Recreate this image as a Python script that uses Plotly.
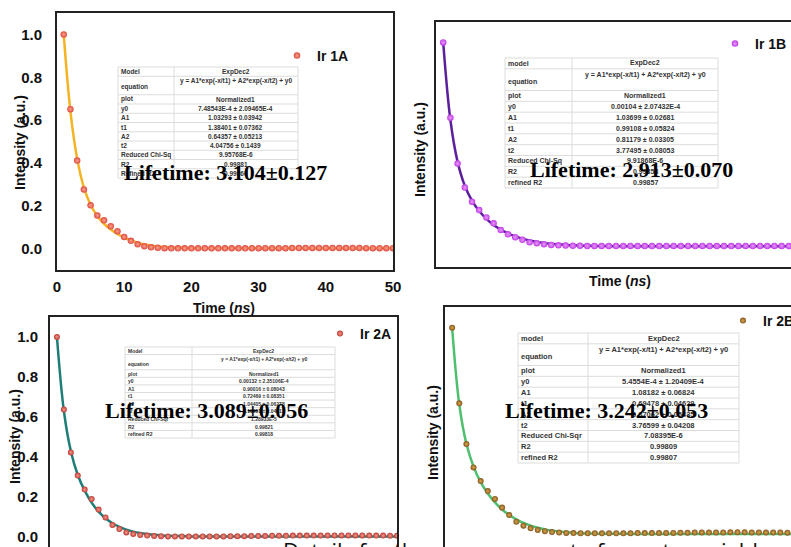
import plotly.graph_objects as go

W, H = 791, 547

# ---------------- data ----------------
time_ns = list(range(1, 51))

ir1a_data = [1.0, 0.651, 0.411, 0.276, 0.202, 0.155, 0.132, 0.104, 0.081, 0.054,
             0.036, 0.020, 0.011, 0.006, 0.004, 0.002] + [0.001] * 12 + [0.002] * 6 + [0.003] * 11 + [0.002] * 5
ir1a_fit = [1.0, 0.64, 0.42, 0.285, 0.205, 0.152, 0.116, 0.089, 0.068, 0.051,
            0.038, 0.028, 0.020, 0.014, 0.010, 0.007, 0.005, 0.004, 0.003, 0.002] + [0.001] * 30

ir1b_data = [1.0, 0.631, 0.407, 0.289, 0.220, 0.179, 0.143, 0.114, 0.081, 0.060,
             0.046, 0.033, 0.021, 0.016, 0.011, 0.008, 0.006, 0.005, 0.004, 0.004] + [0.003] * 30
ir1b_fit = [1.0, 0.62, 0.415, 0.298, 0.225, 0.174, 0.136, 0.106, 0.083, 0.065,
            0.050, 0.039, 0.030, 0.023, 0.018, 0.014, 0.011, 0.008, 0.006, 0.005,
            0.004, 0.003, 0.003, 0.002, 0.002] + [0.002] * 25

ir2a_data = [1.0, 0.637, 0.423, 0.307, 0.237, 0.190, 0.137, 0.098, 0.060, 0.040,
             0.023, 0.015, 0.010, 0.007, 0.005, 0.004] + [0.003] * 9 + [0.004] * 3 + [0.005] * 3 + \
            [0.006] * 3 + [0.007] * 4 + [0.008] * 7 + [0.007] * 3 + [0.006] * 2
ir2a_fit = [1.0, 0.63, 0.43, 0.31, 0.232, 0.172, 0.127, 0.094, 0.069, 0.051,
            0.037, 0.027, 0.020, 0.015, 0.011, 0.008, 0.006, 0.005, 0.004, 0.003] + [0.002] * 30

ir2b_data = [1.0, 0.635, 0.439, 0.326, 0.260, 0.212, 0.174, 0.132, 0.096, 0.064,
             0.045, 0.032, 0.024, 0.018, 0.014, 0.012, 0.010, 0.009] + [0.008] * 8 + [0.009] * 3 + \
            [0.010] * 3 + [0.011] * 2 + [0.012] * 5 + [0.013] * 3 + [0.012] * 5 + [0.011] * 3
ir2b_fit = [1.0, 0.63, 0.44, 0.33, 0.255, 0.200, 0.157, 0.123, 0.096, 0.075,
            0.058, 0.045, 0.035, 0.027, 0.021, 0.017, 0.013, 0.010, 0.008, 0.007] + [0.006] * 5 + [0.005] * 25

y_ticks = [0.0, 0.2, 0.4, 0.6, 0.8, 1.0]
x_ticks = [0, 10, 20, 30, 40, 50]

eq = "y = A1*exp(-x/t1) + A2*exp(-x/t2) + y0"
t1_labels = ["Model", "equation", "plot", "y0", "A1", "t1", "A2", "t2", "Reduced Chi-Sq", "R2", "Refined R2"]
t1_values = ["ExpDec2", eq, "Normalized1", "7.48543E-4 ± 2.09465E-4", "1.03293 ± 0.03942",
             "1.38401 ± 0.07362", "0.64357 ± 0.05213", "4.04756 ± 0.1439", "9.95768E-6", "0.99881", "0.99866"]
t2_labels = ["model", "equation", "plot", "y0", "A1", "t1", "A2", "t2", "Reduced Chi-Sq", "R2", "refined R2"]
t2_values = ["ExpDec2", eq, "Normalized1", "0.00104 ± 2.07432E-4", "1.03699 ± 0.02681",
             "0.99108 ± 0.05824", "0.81179 ± 0.03305", "3.77495 ± 0.08053", "9.91868E-6", "0.99858", "0.99857"]
t3_labels = ["Model", "equation", "plot", "y0", "A1", "t1", "A2", "t2", "Reduced Chi-Sqr", "R2", "refined R2"]
t3_values = ["ExpDec2", eq, "Normalized1", "0.00132 ± 2.35106E-4", "0.90016 ± 0.08043",
             "0.72469 ± 0.08351", "1.04405 ± 0.06278", "3.10951 ± 0.04012", "1.28933E-5", "0.99821", "0.99818"]
t4_labels = ["model", "equation", "plot", "y0", "A1", "t1", "A2", "t2", "Reduced Chi-Sqr", "R2", "refined R2"]
t4_values = ["ExpDec2", eq, "Normalized1", "5.4554E-4 ± 1.20409E-4", "1.08182 ± 0.06824",
             "0.69478 ± 0.04629", "0.87062 ± 0.05435", "3.76599 ± 0.04208", "7.08395E-6", "0.99809", "0.99807"]

lifetimes = ["Lifetime: 3.104±0.127", "Lifetime: 2.913±0.070", "Lifetime: 3.089±0.056", "Lifetime: 3.242±0.053"]
names = ["Ir 1A", "Ir 1B", "Ir 2A", "Ir 2B"]


def px(x):
    return x / W


def py(y):
    return 1 - y / H


fig = go.Figure()

panels = [
    dict(data=ir1a_data, fit=ir1a_fit, name=names[0], mc="#e04a3e", mg="#f7a48c", lc="#f5b324", ax="", ms=6.5, lg="legend"),
    dict(data=ir1b_data, fit=ir1b_fit, name=names[1], mc="#c23be8", mg="#e59cf7", lc="#5b1f9c", ax="2", ms=6.5, lg="legend2"),
    dict(data=ir2a_data, fit=ir2a_fit, name=names[2], mc="#be3a30", mg="#ef9a90", lc="#1f7d78", ax="3", ms=6, lg="legend3"),
    dict(data=ir2b_data, fit=ir2b_fit, name=names[3], mc="#84561c", mg="#d8a850", lc="#4dbf6e", ax="4", ms=6, lg="legend4"),
]

for p in panels:
    xa = "x" + p["ax"]
    ya = "y" + p["ax"]
    fig.add_trace(go.Scatter(x=time_ns, y=p["fit"], mode="lines", line=dict(color=p["lc"], width=2.5, shape="spline"),
                             xaxis=xa, yaxis=ya, showlegend=False, hoverinfo="skip"))
    fig.add_trace(go.Scatter(x=time_ns, y=p["data"], mode="markers", name=p["name"],
                             marker=dict(color=p["mc"], size=p["ms"], line=dict(width=0),
                                         gradient=dict(type="radial", color=p["mg"])),
                             xaxis=xa, yaxis=ya, legend=p["lg"]))

# ---------------- tables (text annotations + rule lines) ----------------
ann = []
shapes = []
tables = [
    (t1_labels, t1_values, [118, 298], [67, 178], 174, 6.5),
    (t2_labels, t2_values, [505, 718], [58, 188], 572, 7),
    (t3_labels, t3_values, [125, 335], [347, 438], 192, 5),
    (t4_labels, t4_values, [518, 739], [333, 463], 588, 7.5),
]
grid = "#dcdcdc"
for labels, values, xs, ys, xdiv, fs in tables:
    unit = (ys[1] - ys[0]) / 12.0
    tfont = dict(family="Liberation Sans", size=fs, color="#333333", weight="bold")
    shapes.append(dict(type="rect", xref="paper", yref="paper", x0=px(xs[0]), x1=px(xs[1]),
                       y0=py(ys[1]), y1=py(ys[0]), line=dict(color=grid, width=1), fillcolor="white", layer="above"))
    shapes.append(dict(type="line", xref="paper", yref="paper", x0=px(xdiv), x1=px(xdiv),
                       y0=py(ys[1]), y1=py(ys[0]), line=dict(color=grid, width=1), layer="above"))
    top = ys[0]
    for i, (lab, val) in enumerate(zip(labels, values)):
        h = 2 * unit if i == 1 else unit
        if i > 0:
            shapes.append(dict(type="line", xref="paper", yref="paper", x0=px(xs[0]), x1=px(xs[1]),
                               y0=py(top), y1=py(top), line=dict(color=grid, width=1), layer="above"))
        if i == 1:
            ylab = top + 0.6 * h
            yval = top + 0.28 * h
        else:
            ylab = yval = top + 0.5 * h
        ann.append(dict(text=lab, x=px(xs[0] + 2), y=py(ylab), xref="paper", yref="paper", showarrow=False,
                        font=tfont, xanchor="left", yanchor="middle", borderpad=0))
        ann.append(dict(text=val, x=px((xdiv + xs[1]) / 2), y=py(yval), xref="paper", yref="paper",
                        showarrow=False, font=tfont, xanchor="center", yanchor="middle", borderpad=0))
        top += h

# ---------------- axes ----------------
tickfont = dict(family="Liberation Sans", size=15, color="#111111", weight="bold")
common = dict(showgrid=False, zeroline=False, linecolor="#222222", linewidth=2, ticks="", tickfont=tickfont)

fig.update_layout(
    xaxis=dict(domain=[px(57), px(393)], range=[0, 50], anchor="y", showline=True, mirror=True,
               tickvals=x_ticks, ticklabelstandoff=2, **common),
    yaxis=dict(domain=[py(270), py(13)], range=[-0.1, 1.1], anchor="x", showline=True, mirror=True,
               tickvals=y_ticks, tickformat=".1f", ticklabelstandoff=10, **common),
    xaxis2=dict(domain=[px(436), 1], range=[0, 49.3], anchor="y2", showline=True, mirror=True,
                showticklabels=False, **common),
    yaxis2=dict(domain=[py(267), py(22)], range=[-0.1, 1.1], anchor="x2", showline=True, mirror=False,
                showticklabels=False, **common),
    xaxis3=dict(domain=[px(50), px(397)], range=[0, 50], anchor="y3", side="top", showline=True, mirror=False,
                showticklabels=False, **common),
    yaxis3=dict(domain=[0, py(317)], range=[-0.05, 1.1], anchor="x3", showline=True, mirror=True,
                tickvals=y_ticks, tickformat=".1f", ticklabelstandoff=7, **common),
    xaxis4=dict(domain=[px(445), 1], range=[0, 48.5], anchor="y4", side="top", showline=True, mirror=False,
                showticklabels=False, **common),
    yaxis4=dict(domain=[0, py(307)], range=[-0.058, 1.1], anchor="x4", showline=True, mirror=False,
                showticklabels=False, **common),
)

# ---------------- legends ----------------
legfont = dict(family="Liberation Sans", size=14, color="#111111", weight="bold")
leg_common = dict(bgcolor="rgba(0,0,0,0)", borderwidth=0, font=legfont, xanchor="left", yanchor="top",
                  xref="paper", yref="paper", itemwidth=30)
fig.update_layout(
    legend=dict(x=px(277), y=py(40), **leg_common),
    legend2=dict(x=px(715), y=py(28), **leg_common),
    legend3=dict(x=px(320), y=py(318), **leg_common),
    legend4=dict(x=px(723), y=py(305), **leg_common),
)

# ---------------- other annotations ----------------
title_font = dict(family="Liberation Sans", size=14, color="#111111", weight="bold")
for text, x, y in [("Intensity (a.u.)", 20, 143), ("Intensity (a.u.)", 420, 150),
                   ("Intensity (a.u.)", 15, 437), ("Intensity (a.u.)", 433, 433)]:
    ann.append(dict(text=text, x=px(x), y=py(y), xref="paper", yref="paper", showarrow=False,
                    textangle=-90, font=title_font, xanchor="center", yanchor="middle"))
for x, y in [(224, 308), (620, 281)]:
    ann.append(dict(text="Time (<i>ns</i>)", x=px(x), y=py(y), xref="paper", yref="paper", showarrow=False,
                    font=title_font, xanchor="center", yanchor="middle"))
for text, x, y in zip(lifetimes, [122, 528, 103, 503], [172, 170, 410, 410]):
    ann.append(dict(text=text, x=px(x), y=py(y), xref="paper", yref="paper", showarrow=False,
                    font=dict(family="Liberation Serif", size=22, color="#000000", weight="bold"),
                    xanchor="left", yanchor="middle"))
ann.append(dict(text="Details for the measurement of quantum yield", x=px(281), y=py(533), xref="paper",
                yref="paper", showarrow=False, font=dict(family="Open Sans", size=22, color="#111111"),
                xanchor="left", yanchor="top"))

fig.update_layout(
    annotations=ann,
    shapes=shapes,
    width=W, height=H,
    margin=dict(l=0, r=0, t=0, b=0, autoexpand=False),
    paper_bgcolor="white", plot_bgcolor="white",
)

fig.write_html("out.html")
